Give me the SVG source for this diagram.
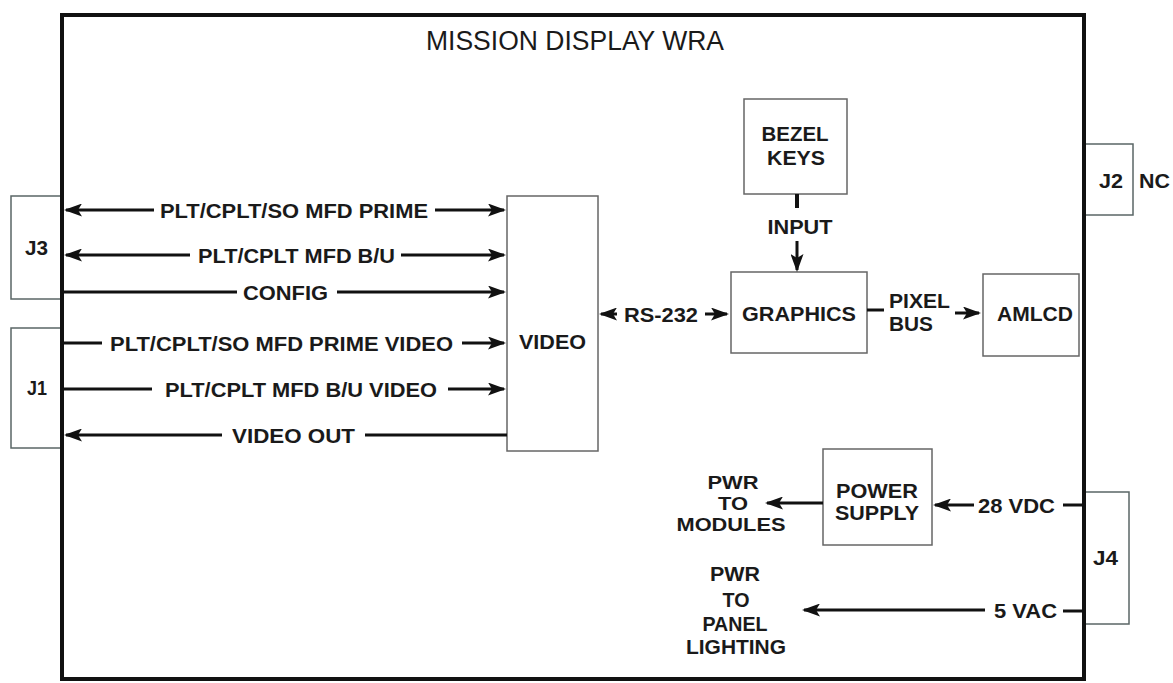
<svg xmlns="http://www.w3.org/2000/svg" width="1173" height="683" viewBox="0 0 1173 683">
<style>
.frame{fill:none;stroke:#111;stroke-width:4}
.box{fill:#fff;stroke:#666;stroke-width:1.5}
.jbox{fill:#fff;stroke:#5a6666;stroke-width:1.5}
.wire{fill:none;stroke:#111;stroke-width:3}
.stub{fill:none;stroke:#111;stroke-width:4}
text{font-family:"Liberation Sans",Arial,sans-serif;font-weight:bold;font-size:21px;fill:#1a1a1a}
.title{font-weight:normal;font-size:27px}
.sm{font-size:19px}
.c{text-anchor:middle}
</style>
<defs>
<marker id="ah" markerUnits="userSpaceOnUse" viewBox="0 0 18 13" markerWidth="18" markerHeight="13" refX="16" refY="6.5" orient="auto-start-reverse">
<path d="M0,0 L18,6.5 L0,13 L4,6.5 z" fill="#111"/>
</marker>
</defs>
<rect width="1173" height="683" fill="#fff"/>

<g id="connectors-j">
<g id="J3"><rect class="jbox" x="11" y="196" width="51" height="103"/><text x="25" y="255" textLength="23" lengthAdjust="spacingAndGlyphs">J3</text></g>
<g id="J1"><rect class="jbox" x="11" y="328" width="51" height="120"/><text x="27" y="395" textLength="20" lengthAdjust="spacingAndGlyphs">J1</text></g>
<g id="J2"><rect class="jbox" x="1084" y="144" width="49" height="71"/><text x="1099" y="188" textLength="24" lengthAdjust="spacingAndGlyphs">J2</text><text x="1139" y="188" textLength="31" lengthAdjust="spacingAndGlyphs">NC</text></g>
<g id="J4"><rect class="jbox" x="1084" y="492" width="45" height="132"/><text x="1093" y="565" textLength="25" lengthAdjust="spacingAndGlyphs">J4</text></g>
</g>

<g id="wra">
<rect class="frame" x="62" y="15" width="1022" height="664"/>
<text class="title" x="426" y="50" textLength="298" lengthAdjust="spacingAndGlyphs">MISSION DISPLAY WRA</text>
</g>

<g id="video"><rect class="box" x="507" y="196" width="91" height="255"/><text x="519" y="349" textLength="67" lengthAdjust="spacingAndGlyphs">VIDEO</text></g>
<g id="graphics"><rect class="box" x="731" y="272" width="136" height="81"/><text x="742" y="321" textLength="114" lengthAdjust="spacingAndGlyphs">GRAPHICS</text></g>
<g id="bezel"><rect class="box" x="744" y="99" width="103" height="95"/><text class="c" x="795" y="141" textLength="67" lengthAdjust="spacingAndGlyphs">BEZEL</text><text class="c" x="796" y="165" textLength="58" lengthAdjust="spacingAndGlyphs">KEYS</text></g>
<g id="amlcd"><rect class="box" x="983" y="274" width="96" height="82"/><text x="997" y="321" textLength="76" lengthAdjust="spacingAndGlyphs">AMLCD</text></g>
<g id="power"><rect class="box" x="823" y="449" width="109" height="96"/><text class="c" x="877" y="498" textLength="82" lengthAdjust="spacingAndGlyphs">POWER</text><text class="c" x="877" y="520" textLength="84" lengthAdjust="spacingAndGlyphs">SUPPLY</text></g>
<g id="pwr-modules"><text class="c sm" x="733" y="489" textLength="51" lengthAdjust="spacingAndGlyphs">PWR</text><text class="c sm" x="733" y="510" textLength="30" lengthAdjust="spacingAndGlyphs">TO</text><text class="c sm" x="731" y="531" textLength="109" lengthAdjust="spacingAndGlyphs">MODULES</text></g>
<g id="pwr-lighting"><text class="c" x="735" y="581" textLength="50" lengthAdjust="spacingAndGlyphs">PWR</text><text class="c" x="736" y="607" textLength="27" lengthAdjust="spacingAndGlyphs">TO</text><text class="c" x="735" y="631" textLength="65" lengthAdjust="spacingAndGlyphs">PANEL</text><text class="c" x="736" y="654" textLength="100" lengthAdjust="spacingAndGlyphs">LIGHTING</text></g>

<g id="wires">
<path class="wire" d="M66,210 L154,210 M435,210 L504,210" marker-start="url(#ah)" marker-end="url(#ah)"/>
<text x="160" y="218" textLength="268" lengthAdjust="spacingAndGlyphs">PLT/CPLT/SO MFD PRIME</text>
<path class="wire" d="M66,255 L190,255 M401,255 L504,255" marker-start="url(#ah)" marker-end="url(#ah)"/>
<text x="198" y="263" textLength="197" lengthAdjust="spacingAndGlyphs">PLT/CPLT MFD B/U</text>
<path class="wire" d="M62,292 L237,292 M337,292 L504,292" marker-end="url(#ah)"/>
<text x="243" y="300" textLength="85" lengthAdjust="spacingAndGlyphs">CONFIG</text>
<path class="wire" d="M62,343 L102,343 M462,343 L504,343" marker-end="url(#ah)"/>
<text x="110" y="351" textLength="343" lengthAdjust="spacingAndGlyphs">PLT/CPLT/SO MFD PRIME VIDEO</text>
<path class="wire" d="M62,389 L152,389 M448,389 L504,389" marker-end="url(#ah)"/>
<text x="165" y="397" textLength="272" lengthAdjust="spacingAndGlyphs">PLT/CPLT MFD B/U VIDEO</text>
<path class="wire" d="M66,435 L222,435 M365,435 L507,435" marker-start="url(#ah)"/>
<text x="232" y="443" textLength="123" lengthAdjust="spacingAndGlyphs">VIDEO OUT</text>

<path class="wire" d="M601,314 L617,314 M705,314 L727,314" marker-start="url(#ah)" marker-end="url(#ah)"/>
<text x="624" y="322" textLength="74" lengthAdjust="spacingAndGlyphs">RS-232</text>

<path class="stub" d="M797,194 L797,208"/>
<path class="wire" d="M797,241 L797,270" marker-end="url(#ah)"/>
<text class="c" x="800" y="234" textLength="65" lengthAdjust="spacingAndGlyphs">INPUT</text>

<path class="wire" d="M867,310 L884,310"/>
<path class="wire" d="M955,313 L979,313" marker-end="url(#ah)"/>
<text x="889" y="308" textLength="61" lengthAdjust="spacingAndGlyphs">PIXEL</text>
<text x="889" y="331" textLength="44" lengthAdjust="spacingAndGlyphs">BUS</text>

<path class="wire" d="M823,503 L767,503" marker-end="url(#ah)"/>
<path class="wire" d="M1084,505 L1063,505"/>
<path class="wire" d="M974,505 L935,505" marker-end="url(#ah)"/>
<text x="978" y="513" textLength="77" lengthAdjust="spacingAndGlyphs">28 VDC</text>
<path class="wire" d="M1084,611 L1063,611"/>
<path class="wire" d="M985,610 L804,610" marker-end="url(#ah)"/>
<text x="994" y="618" textLength="63" lengthAdjust="spacingAndGlyphs">5 VAC</text>
</g>
</svg>
